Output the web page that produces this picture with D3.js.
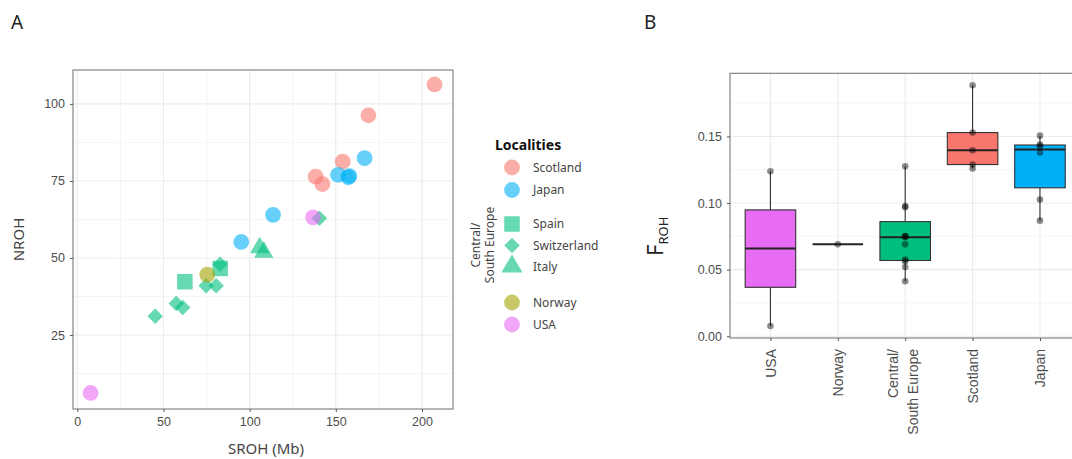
<!DOCTYPE html>
<html>
<head>
<meta charset="utf-8">
<script src="https://cdn.jsdelivr.net/npm/d3@7"></script>
<style>
  body { margin: 0; background: #fff; }
  svg { display: block; font-family: "Noto Sans", "DejaVu Sans", sans-serif; }
  .tick text { fill: #4d4d4d; }
</style>
</head>
<body>
<svg id="chart" width="1072" height="459"></svg>
<script>
// ---- panel A data: SROH (Mb) vs NROH per locality ----
var scotlandSroh = [207.3, 168.9, 154.0, 138.3, 142.2];
var scotlandNroh = [106.3, 96.3, 81.3, 76.4, 74.0];
var japanSroh = [166.7, 151.3, 157.9, 157.2, 113.6, 95.1];
var japanNroh = [82.4, 77.0, 76.6, 76.2, 64.0, 55.2];
var spainSroh = [62.4, 82.9];
var spainNroh = [42.3, 46.6];
var switzSroh = [140.5, 82.9, 80.6, 74.8, 57.4, 61.2, 45.2];
var switzNroh = [62.9, 48.0, 41.0, 41.0, 35.2, 33.9, 31.1];
var italySroh = [105.8, 108.2];
var italyNroh = [53.3, 51.9];
var norwaySroh = [75.4];
var norwayNroh = [44.6];
var usaSroh = [7.7, 136.8];
var usaNroh = [6.2, 63.2];

var xTicksA = [0, 50, 100, 150, 200];
var yTicksA = [25, 50, 75, 100];

// ---- panel B data: FROH per group ----
var groupsB = ["USA", "Norway", "Central/\nSouth Europe", "Scotland", "Japan"];
var frohUSA = [0.0077, 0.1239];
var frohNorway = [0.069];
var frohCentral = [0.0413, 0.052, 0.0563, 0.0575, 0.069, 0.0743, 0.075, 0.0753, 0.0968, 0.0978, 0.1276];
var frohScotland = [0.1884, 0.1529, 0.1396, 0.1289, 0.1259];
var frohJapan = [0.1506, 0.1439, 0.1426, 0.1379, 0.1026, 0.0868];
var yTicksB = [0, 0.05, 0.10, 0.15];

var colScot = "#F8766D", colJap = "#00B0F6", colCen = "#00BF7D", colNor = "#A3A500", colUsa = "#E76BF3";

var svg = d3.select("#chart");

// panel letters
svg.append("text").attr("x", 11).attr("y", 29).attr("font-size", 19).attr("fill", "#222").text("A");
svg.append("text").attr("x", 644).attr("y", 29).attr("font-size", 19).attr("fill", "#222").text("B");

// =============== Panel A ===============
var pA = {left: 73, right: 453, top: 70, bottom: 409};
var x = d3.scaleLinear().domain([-2.5, 218]).range([pA.left, pA.right]);
var y = d3.scaleLinear().domain([1, 111]).range([pA.bottom, pA.top]);

var gA = svg.append("g");
// grid
var minorX = [25, 75, 125, 175], minorY = [12.5, 37.5, 62.5, 87.5];
gA.selectAll(".mgx").data(minorX).enter().append("line")
  .attr("x1", d => x(d)).attr("x2", d => x(d)).attr("y1", pA.top).attr("y2", pA.bottom)
  .attr("stroke", "#f2f2f2").attr("stroke-width", 0.8);
gA.selectAll(".mgy").data(minorY).enter().append("line")
  .attr("y1", d => y(d)).attr("y2", d => y(d)).attr("x1", pA.left).attr("x2", pA.right)
  .attr("stroke", "#f2f2f2").attr("stroke-width", 0.8);
gA.selectAll(".gx").data(xTicksA).enter().append("line")
  .attr("x1", d => x(d)).attr("x2", d => x(d)).attr("y1", pA.top).attr("y2", pA.bottom)
  .attr("stroke", "#ebebeb").attr("stroke-width", 1.1);
gA.selectAll(".gy").data(yTicksA).enter().append("line")
  .attr("y1", d => y(d)).attr("y2", d => y(d)).attr("x1", pA.left).attr("x2", pA.right)
  .attr("stroke", "#ebebeb").attr("stroke-width", 1.1);

// points
function sym(shape) {
  if (shape === "circle") return d3.symbol().type(d3.symbolCircle).size(195)();
  if (shape === "square") return d3.symbol().type(d3.symbolSquare).size(240)();
  if (shape === "diamond") return d3.symbol().type(d3.symbolSquare).size(120)();
  return d3.symbol().type(d3.symbolTriangle).size(160)();
}
var seriesA = [
  {name: "Scotland", sx: scotlandSroh, ny: scotlandNroh, color: colScot, shape: "circle"},
  {name: "Japan", sx: japanSroh, ny: japanNroh, color: colJap, shape: "circle"},
  {name: "Spain", sx: spainSroh, ny: spainNroh, color: colCen, shape: "square"},
  {name: "Switzerland", sx: switzSroh, ny: switzNroh, color: colCen, shape: "diamond"},
  {name: "Italy", sx: italySroh, ny: italyNroh, color: colCen, shape: "triangle"},
  {name: "Norway", sx: norwaySroh, ny: norwayNroh, color: colNor, shape: "circle"},
  {name: "USA", sx: usaSroh, ny: usaNroh, color: colUsa, shape: "circle"}
];
seriesA.forEach(function (s) {
  var pts = s.sx.map((v, i) => ({x: v, y: s.ny[i]}));
  gA.selectAll(null).data(pts).enter().append("path")
    .attr("d", sym(s.shape))
    .attr("transform", d => "translate(" + x(d.x) + "," + y(d.y) + ")" + (s.shape === "diamond" ? " rotate(45)" : ""))
    .attr("fill", s.color).attr("fill-opacity", 0.6);
});

// border
gA.append("rect").attr("x", pA.left).attr("y", pA.top)
  .attr("width", pA.right - pA.left).attr("height", pA.bottom - pA.top)
  .attr("fill", "none").attr("stroke", "#7a7a7a").attr("stroke-width", 1.1);

// axes
var axXA = gA.append("g").attr("transform", "translate(0," + pA.bottom + ")")
  .call(d3.axisBottom(x).tickValues(xTicksA).tickSize(3).tickPadding(5));
var axYA = gA.append("g").attr("transform", "translate(" + pA.left + ",0)")
  .call(d3.axisLeft(y).tickValues(yTicksA).tickSize(3).tickPadding(5));
[axXA, axYA].forEach(function (a) {
  a.select(".domain").remove();
  a.selectAll(".tick line").attr("stroke", "#555");
  a.selectAll(".tick text").attr("font-size", 12.5).attr("font-family", "inherit");
});

gA.append("text").attr("x", (pA.left + pA.right) / 2 + 3).attr("y", 454)
  .attr("text-anchor", "middle").attr("font-size", 15).attr("fill", "#444").text("SROH (Mb)");
gA.append("text").attr("transform", "translate(24," + (pA.top + pA.bottom) / 2 + ") rotate(-90)")
  .attr("text-anchor", "middle").attr("font-size", 15).attr("fill", "#444").text("NROH");

// legend
var gL = svg.append("g");
gL.append("text").attr("x", 495).attr("y", 150).attr("font-size", 14).attr("font-weight", "bold")
  .attr("fill", "#111").text("Localities");
var legY = {Scotland: 167.5, Japan: 190, Spain: 224, Switzerland: 245.5, Italy: 266.5, Norway: 302.5, USA: 324.5};
seriesA.forEach(function (s) {
  var ly = legY[s.name];
  gL.append("path")
    .attr("d", s.shape === "triangle" ? d3.symbol().type(d3.symbolTriangle).size(190)() : sym(s.shape))
    .attr("transform", "translate(512," + ly + ")" + (s.shape === "diamond" ? " rotate(45)" : ""))
    .attr("fill", s.color).attr("fill-opacity", 0.6);
  gL.append("text").attr("x", 533).attr("y", ly).attr("dy", "0.35em")
    .attr("font-size", 12).attr("fill", "#444").text(s.name);
});
var lt = gL.append("text").attr("transform", "translate(482,245) rotate(-90)")
  .attr("text-anchor", "middle").attr("font-size", 12).attr("fill", "#444");
lt.append("tspan").attr("x", 0).attr("dy", "-0.15em").text("Central/");
lt.append("tspan").attr("x", 0).attr("dy", "1.15em").text("South Europe");

// =============== Panel B ===============
var pB = {left: 730, right: 1080.4, top: 73.3, bottom: 338};
var xb = d3.scalePoint().domain(groupsB).range([pB.left, pB.right]).padding(0.6);
var yb = d3.scaleLinear().domain([-0.0013, 0.1974]).range([pB.bottom, pB.top]);
var gB = svg.append("g");

var minorYB = [0.025, 0.075, 0.125, 0.175];
gB.selectAll(".mgy").data(minorYB).enter().append("line")
  .attr("y1", d => yb(d)).attr("y2", d => yb(d)).attr("x1", pB.left).attr("x2", pB.right)
  .attr("stroke", "#f2f2f2").attr("stroke-width", 0.8);
gB.selectAll(".gy").data(yTicksB).enter().append("line")
  .attr("y1", d => yb(d)).attr("y2", d => yb(d)).attr("x1", pB.left).attr("x2", pB.right)
  .attr("stroke", "#ebebeb").attr("stroke-width", 1.1);
gB.selectAll(".gx").data(groupsB).enter().append("line")
  .attr("x1", d => xb(d)).attr("x2", d => xb(d)).attr("y1", pB.top).attr("y2", pB.bottom)
  .attr("stroke", "#ebebeb").attr("stroke-width", 1.1);

var seriesB = [
  {g: groupsB[0], v: frohUSA, color: colUsa},
  {g: groupsB[1], v: frohNorway, color: colNor},
  {g: groupsB[2], v: frohCentral, color: colCen},
  {g: groupsB[3], v: frohScotland, color: colScot},
  {g: groupsB[4], v: frohJapan, color: colJap}
];
var boxW = xb.step() * 0.75;
seriesB.forEach(function (s) {
  var v = s.v.slice().sort(d3.ascending);
  var q1 = d3.quantile(v, 0.25), med = d3.quantile(v, 0.5), q3 = d3.quantile(v, 0.75);
  var iqr = q3 - q1;
  var lo = d3.min(v.filter(d => d >= q1 - 1.5 * iqr));
  var hi = d3.max(v.filter(d => d <= q3 + 1.5 * iqr));
  var cx = xb(s.g);
  var ln = "#333";
  if (hi > q3) gB.append("line").attr("x1", cx).attr("x2", cx).attr("y1", yb(q3)).attr("y2", yb(hi)).attr("stroke", ln).attr("stroke-width", 1.1);
  if (lo < q1) gB.append("line").attr("x1", cx).attr("x2", cx).attr("y1", yb(q1)).attr("y2", yb(lo)).attr("stroke", ln).attr("stroke-width", 1.1);
  gB.append("rect").attr("x", cx - boxW / 2).attr("width", boxW)
    .attr("y", yb(q3)).attr("height", Math.max(0, yb(q1) - yb(q3)))
    .attr("fill", s.color).attr("stroke", ln).attr("stroke-width", 1.1);
  gB.append("line").attr("x1", cx - boxW / 2).attr("x2", cx + boxW / 2)
    .attr("y1", yb(med)).attr("y2", yb(med)).attr("stroke", "#222").attr("stroke-width", 2);
  gB.selectAll(null).data(s.v).enter().append("circle")
    .attr("cx", cx).attr("cy", d => yb(d)).attr("r", 3.3)
    .attr("fill", "#000").attr("fill-opacity", 0.45);
});

gB.append("rect").attr("x", pB.left).attr("y", pB.top)
  .attr("width", pB.right - pB.left).attr("height", pB.bottom - pB.top)
  .attr("fill", "none").attr("stroke", "#7a7a7a").attr("stroke-width", 1.1);

var axYB = gB.append("g").attr("transform", "translate(" + pB.left + ",0)")
  .call(d3.axisLeft(yb).tickValues(yTicksB).tickFormat(d3.format(".2f")).tickSize(3).tickPadding(5));
axYB.select(".domain").remove();
axYB.selectAll(".tick line").attr("stroke", "#555");
axYB.selectAll(".tick text").attr("font-size", 12.5).attr("font-family", "inherit");

var axXB = gB.append("g").attr("transform", "translate(0," + pB.bottom + ")")
  .call(d3.axisBottom(xb).tickSize(3).tickFormat(""));
axXB.select(".domain").remove();
axXB.selectAll(".tick line").attr("stroke", "#555");
axXB.selectAll(".tick").each(function (d) {
  var lines = d.split("\n");
  var t = d3.select(this).append("text").attr("transform", "translate(0,11) rotate(-90)")
    .attr("text-anchor", "end").attr("font-size", 14).attr("fill", "#4d4d4d");
  lines.forEach(function (l, i) {
    var off = lines.length > 1 ? (i === 0 ? -13 : 7) : 0;
    t.append("tspan").attr("x", 0).attr("y", off).attr("dy", "0.35em").text(l);
  });
});

var yt = gB.append("text").attr("transform", "translate(663,256) rotate(-90)")
  .attr("fill", "#222");
yt.append("tspan").attr("font-size", 22).text("F");
yt.append("tspan").attr("font-size", 13).attr("dy", 5).text("ROH");
</script>
</body>
</html>
